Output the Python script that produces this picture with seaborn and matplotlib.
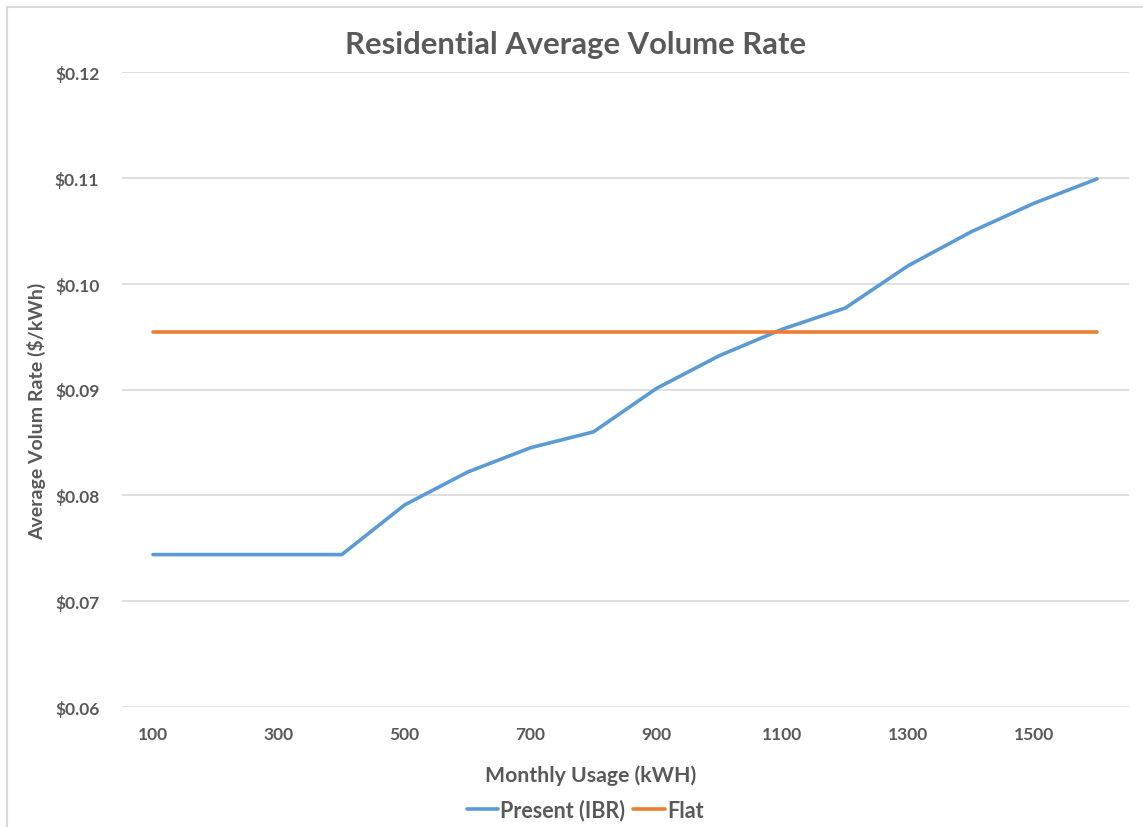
import matplotlib
matplotlib.use("Agg")
import matplotlib.pyplot as plt
from matplotlib.patches import Rectangle
from matplotlib.ticker import FuncFormatter
import pandas as pd
import seaborn as sns

# Monthly usage levels (kWh)
usage = [100, 200, 300, 400, 500, 600, 700, 800,
         900, 1000, 1100, 1200, 1300, 1400, 1500, 1600]
# Average volume rate under the present inclining block rate ($/kWh)
present_ibr = [0.0744, 0.0744, 0.0744, 0.0744, 0.0791, 0.0822, 0.0845, 0.0860,
               0.0901, 0.0932, 0.0957, 0.0977, 0.1017, 0.1049, 0.1076, 0.1099]
# Flat rate ($/kWh)
flat = [0.0954] * len(usage)

series_names = ["Present (IBR)", "Flat"]
series_colors = ["#5B9BD5", "#ED7D31"]
x_tick_labels = [100, 300, 500, 700, 900, 1100, 1300, 1500]
y_ticks = [0.06, 0.07, 0.08, 0.09, 0.10, 0.11, 0.12]

df = pd.DataFrame({
    "usage": usage * 2,
    "rate": present_ibr + flat,
    "series": [series_names[0]] * len(usage) + [series_names[1]] * len(usage),
})

sns.set_theme(style="white")
plt.rcParams["font.family"] = ["Lato", "DejaVu Sans"]

text_color = "#595959"
grid_color = "#D9D9D9"

W, H = 1143, 828
fig = plt.figure(figsize=(W / 100, H / 100), dpi=100)
fig.patch.set_facecolor("white")

# Chart-area frame along the left and top edges
fig.patches.append(Rectangle((7 / W, -0.1), 1.2, 1.1 - 8 / H,
                             transform=fig.transFigure, fill=False,
                             edgecolor="#D9D9D9", linewidth=1.5, zorder=0))

ax = fig.add_axes([121.5 / W, (H - 708) / H, 1007 / W, 635 / H])

sns.lineplot(data=df, x="usage", y="rate", hue="series",
             palette=dict(zip(series_names, series_colors)),
             linewidth=2.6, ax=ax, legend=False, zorder=3)

ax.set_xlim(50, 1650)
ax.set_ylim(0.06, 0.12)
ax.set_xticks(x_tick_labels)
ax.set_yticks(y_ticks)
ax.yaxis.set_major_formatter(FuncFormatter(lambda v, p: f"${v:.2f}"))

ax.grid(axis="y", color=grid_color, linewidth=1.2)
ax.grid(axis="x", visible=False)
for s in ax.spines.values():
    s.set_visible(False)

ax.tick_params(axis="both", length=0, colors=text_color, labelsize=12.5)
ax.tick_params(axis="y", pad=16)
ax.tick_params(axis="x", pad=14)
for lbl in ax.get_xticklabels() + ax.get_yticklabels():
    lbl.set_fontweight("bold")
ax.set_xlabel("")
ax.set_ylabel("")

fig.text(591 / W, 1 - 776 / H, "Monthly Usage (kWH)", ha="center",
         va="center", fontsize=15.3, fontweight="bold", color=text_color)
fig.text(37 / W, 1 - 411 / H, "Average Volum Rate ($/kWh)", ha="center",
         va="center", rotation=90, fontsize=14, fontweight="bold",
         color=text_color)
fig.text(576 / W, 1 - 45 / H, "Residential Average Volume Rate",
         ha="center", va="center", fontsize=22.3, fontweight="bold",
         color=text_color)

handles = [plt.Line2D([], [], color=c, linewidth=2.6) for c in series_colors]
leg = fig.legend(handles, series_names, loc="center",
                 bbox_to_anchor=(585 / W, 1 - 811 / H), ncol=2,
                 frameon=False, fontsize=15.5, handlelength=1.45,
                 handletextpad=0.1, columnspacing=0.4)
for t in leg.get_texts():
    t.set_color(text_color)
    t.set_fontweight("bold")

fig.savefig("out.png", dpi=100, facecolor="white")
